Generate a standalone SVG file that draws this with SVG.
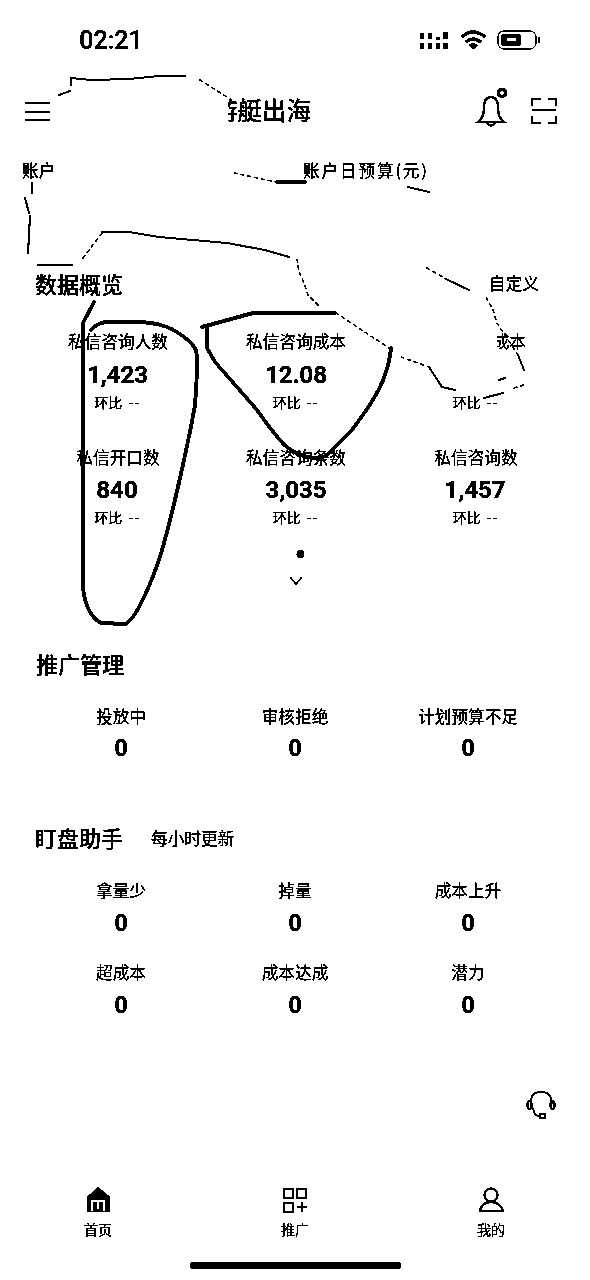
<svg xmlns="http://www.w3.org/2000/svg" width="590" height="1280" viewBox="0 0 590 1280">
<style>
text{font-family:"Noto Sans CJK SC","Liberation Sans",sans-serif;fill:#000;text-anchor:middle}
.num{font-family:Roboto,"Liberation Sans",sans-serif;font-weight:700}
.big{font-size:22px;font-weight:500;text-anchor:start}
.lab{font-size:16.700px}
.m{font-size:24px}
.s{font-size:14px}
.s tspan{letter-spacing:1.500px;font-family:"Liberation Sans",sans-serif}
.z{font-size:23px}
.nav{font-size:14px}
.ink{fill:none;stroke:#000;stroke-linecap:round;stroke-linejoin:round}
.fine{stroke-width:1.2;stroke-dasharray:3 4}
.thin{stroke-width:1.6}
.pen{stroke-width:3.4}
.ic{fill:none;stroke:#000;stroke-width:2}
</style>
<defs><clipPath id="c1"><rect x="497" y="330" width="40" height="25"/></clipPath><clipPath id="c2"><rect x="228" y="95" width="100" height="35"/></clipPath><clipPath id="c3"><rect x="15" y="160" width="41" height="25"/></clipPath>
<filter id="bw" x="0" y="0" width="100%" height="100%" color-interpolation-filters="sRGB"><feComponentTransfer><feFuncR type="discrete" tableValues="0 0 0 1"/><feFuncG type="discrete" tableValues="0 0 0 1"/><feFuncB type="discrete" tableValues="0 0 0 1"/></feComponentTransfer></filter></defs>
<g filter="url(#bw)">
<rect width="590" height="1280" fill="#fff"/>
<g id="status">
<text class="num" x="111" y="49" style="font-size:25px;font-weight:500">02:21</text>
<g fill="#000"><rect x="420" y="33" width="4" height="6"/><rect x="428" y="33" width="4" height="6"/><rect x="436" y="37" width="4" height="3"/><rect x="443" y="32" width="5" height="7"/><rect x="420" y="43" width="4" height="6"/><rect x="428" y="43" width="4" height="6"/><rect x="436" y="43" width="4" height="6"/><rect x="443" y="43" width="5" height="6"/></g>
<path d="M462 37Q473 27 485 37M466 42Q473 36 481 42M470 46Q473 44 477 46" fill="none" stroke="#000" stroke-width="3"/><circle cx="473.500" cy="47" r="2"/>
<rect x="498" y="31" width="38" height="18" rx="6" fill="none" stroke="#000" stroke-width="1"/><rect x="501" y="34" width="20" height="12" rx="3"/><rect x="507" y="38" width="9" height="3" fill="#fff"/><rect x="538" y="37" width="2" height="6"/>
</g>
<g id="header">
<path d="M25 103H50M25 112H50M25 120H50" stroke="#000" stroke-width="2.200" fill="none"/>
<text x="0" y="120" clip-path="url(#c2)" style="font-size:24.500px;font-weight:500;text-anchor:start"><tspan x="213">游艇出海</tspan></text>
<path d="M478 122Q484 118 484 108Q484 97 491 97Q498 97 498 108Q498 118 504 122Z" class="ic"/><path d="M486 122Q491 129 496 122" class="ic"/>
<circle cx="502" cy="93" r="3.500" fill="none" stroke="#000" stroke-width="3"/>
<path d="M532 106V99H541M548 99H556V106M532 110H556M532 116V123H541M548 123H556V116" class="ic"/>
</g>
<g id="account">
<text class="lab" x="15" y="177" clip-path="url(#c3)" style="text-anchor:start"><tspan x="22">账户</tspan></text>
<text class="lab" x="365" y="177" textLength="124" lengthAdjust="spacing">账户日预算(元)</text>
</g>
<g id="overview">
<text class="big" x="35" y="293">数据概览</text>
<text class="lab" x="514" y="290">自定义</text>
<text class="lab" x="118" y="347.500">私信咨询人数</text><text class="num m" x="117.500" y="383">1,423</text><text class="s" x="117.500" y="407.500">环比<tspan dx="6">--</tspan></text>
<text class="lab" x="296" y="347.500">私信咨询成本</text><text class="num m" x="296" y="383">12.08</text><text class="s" x="296" y="407.500">环比<tspan dx="6">--</tspan></text>
<text class="lab" x="476" y="347.500" clip-path="url(#c1)">私信咨询成本</text><text class="s" x="476" y="407.500">环比<tspan dx="6">--</tspan></text>
<text class="lab" x="118" y="463.500">私信开口数</text><text class="num m" x="117" y="498">840</text><text class="s" x="117.500" y="522.500">环比<tspan dx="6">--</tspan></text>
<text class="lab" x="296" y="463.500">私信咨询条数</text><text class="num m" x="296" y="498">3,035</text><text class="s" x="296" y="522.500">环比<tspan dx="6">--</tspan></text>
<text class="lab" x="476" y="463.500">私信咨询数</text><text class="num m" x="475" y="498">1,457</text><text class="s" x="476" y="522.500">环比<tspan dx="6">--</tspan></text>
<circle cx="300.500" cy="554" r="3.800"/>
<path d="M290 577L296 584L302 577" fill="none" stroke="#000" stroke-width="1.200"/>
</g>
<g id="promotion">
<text class="big" x="36" y="673">推广管理</text>
<text class="lab" x="121" y="723">投放中</text><text class="num z" x="121" y="756">0</text>
<text class="lab" x="295" y="723">审核拒绝</text><text class="num z" x="295" y="756">0</text>
<text class="lab" x="468" y="723">计划预算不足</text><text class="num z" x="468" y="756">0</text>
</g>
<g id="monitor">
<text class="big" x="35" y="847">盯盘助手</text>
<text class="lab" x="151" y="845" style="text-anchor:start">每小时更新</text>
<text class="lab" x="121" y="897">拿量少</text><text class="num z" x="121" y="931">0</text>
<text class="lab" x="295" y="897">掉量</text><text class="num z" x="295" y="931">0</text>
<text class="lab" x="468" y="897">成本上升</text><text class="num z" x="468" y="931">0</text>
<text class="lab" x="121" y="979">超成本</text><text class="num z" x="121" y="1013">0</text>
<text class="lab" x="295" y="979">成本达成</text><text class="num z" x="295" y="1013">0</text>
<text class="lab" x="468" y="979">潜力</text><text class="num z" x="468" y="1013">0</text>
</g>
<g id="headset">
<path d="M532 1108Q528 1092 541 1092Q554 1092 551 1108M533 1108Q534 1117 541 1116" class="ic" style="stroke-width:1.600"/>
<rect x="527.500" y="1101" width="4" height="8" rx="2" class="ic" style="stroke-width:1.600"/><rect x="550.500" y="1101" width="4" height="8" rx="2" class="ic" style="stroke-width:1.600"/><rect x="540" y="1114" width="5" height="4" class="ic" style="stroke-width:1.400"/>
</g>
<g id="nav">
<path d="M98 1187L110 1197V1212H87V1197Z"/><path d="M92 1211V1201H104V1211M98 1201V1209" fill="none" stroke="#fff" stroke-width="2.500"/>
<text class="nav" x="98" y="1235">首页</text>
<path d="M284 1189h9v9h-9zM297 1189h9v9h-9zM284 1203h9v9h-9zM297 1207h10M302 1202v10" class="ic"/>
<text class="nav" x="295" y="1235">推广</text>
<circle cx="491" cy="1195" r="6.500" class="ic"/><path d="M480 1211Q482 1202 491 1202Q500 1202 503 1211Z" class="ic"/>
<text class="nav" x="491" y="1235">我的</text>
<rect x="190" y="1262" width="211" height="7" rx="3.500"/>
</g>
<g id="sketch" class="ink">
<path class="pen" d="M94 302L83 323V586C84 605 92 620 102 623L125 624C132 622 145 600 159 560C170 525 187 450 195 405Q197 380 197 360C197 350 195 347 190 342C175 328 160 322 135 322H106Q97 323 91 330"/>
<path class="pen" d="M202 327L253 313H335M207 327V348L215 362L257 410C270 428 280 442 287 447Q300 458 318 458Q325 458 332 450L352 430C365 412 378 395 385 375Q390 360 391 348"/>
<path class="thin" d="M59 95L70 91M71 85V78L91 80L129 79L159 76L185 76"/>
<path class="fine" d="M200 80L227 97"/>
<path class="fine" d="M234 173L276 182"/><path class="thin" style="stroke-width:2.400" d="M276 182H306"/>
<path class="thin" d="M408 187L429 192"/>
<path class="thin" d="M32 183V193M25 198L29 213M30 216L28 253M38 265H72"/>
<path class="fine" d="M83 258L102 233"/>
<path class="thin" d="M102 232H129L159 237L227 243L265 250L289 257"/>
<path class="fine" d="M297 259L299 272L304 283L308 295L318 305"/>
<path class="fine" d="M336 313L389 348M401 357L429 367"/>
<path class="thin" d="M429 367L442 387L455 390M484 398L503 393M499 380L505 378"/>
<path class="fine" d="M514 388L527 384M518 355L497 323L493 310L486 297M427 268L448 280"/><path class="thin" d="M448 280L469 290M524 370L518 355"/>
</g>
</g>
</svg>
